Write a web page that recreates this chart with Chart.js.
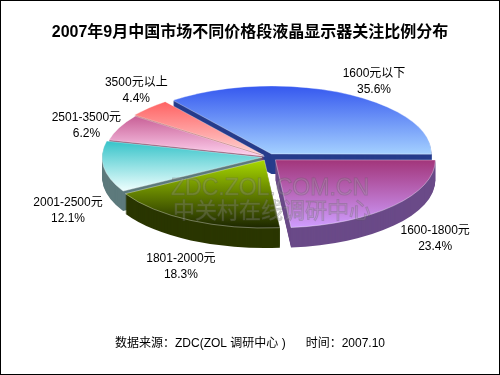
<!DOCTYPE html>
<html>
<head>
<meta charset="utf-8">
<script src="https://cdn.jsdelivr.net/npm/chart.js@4/dist/chart.umd.min.js"></script>
<style>
  html, body { margin: 0; padding: 0; background: #fff; }
  canvas { display: block; }
</style>
</head>
<body>
<canvas id="lcdShareChart" width="500" height="375"></canvas>
<script>
// Chart data
const priceBands = ["1600元以下", "1600-1800元", "1801-2000元", "2001-2500元", "2501-3500元", "3500元以上"];
const sharePercent = [35.6, 23.4, 18.3, 12.1, 6.2, 4.4];

const chartTitle = "2007年9月中国市场不同价格段液晶显示器关注比例分布";
const footerText = "数据来源：ZDC(ZOL 调研中心 )      时间：2007.10";

// Slice styles: gradient top -> bottom, side wall colour
const topColorA = ["#3558ef", "#a2357a", "#a8d800", "#36c3c9", "#c85f96", "#ff6262"];
const topColorB = ["#a4d0ff", "#cf9dff", "#1c2600", "#effffe", "#ffd2ef", "#ffd4d4"];
const sideColor = ["#263c8c", "#6a4a88", "#2a3600", "#5d7a7c", "#8c4a6c", "#b05a5a"];
const explode = [8, 10, 8, 6, 4, 6];

// 3D projection layout
const CX = 268, CY = 157, RX = 160, RY = 68, DEPTH = 20;
const TILT = RY / RX;
const FONT = "'Liberation Sans', 'Noto Sans CJK SC', sans-serif";

// label placement: ellipse round the block, plus small per-label nudges
const LABEL_CX = CX + 8, LABEL_CY = CY + DEPTH / 2;
const LABEL_RX = 207, LABEL_RY = 105;
const labelNudge = [[7, 9], [6, 1], [0, 6], [-3, 29], [-2, 3], [9, -3]];

/**
 * Build the path of one slice on the tilted ellipse
 * @param {CanvasRenderingContext2D} ctx
 * @param {Object} arc - Chart.js ArcElement
 * @param {number} dy - vertical shift (for the side wall)
 */
function slicePath(ctx, arc, dy) {
  const mid = (arc.startAngle + arc.endAngle) / 2;
  const off = arc.options.offset || 0;
  const ox = CX + Math.cos(mid) * off;
  const oy = CY + Math.sin(mid) * off * TILT + dy;
  ctx.beginPath();
  ctx.moveTo(ox, oy);
  ctx.ellipse(ox, oy, RX, RY, 0, arc.startAngle, arc.endAngle);
  ctx.closePath();
  return { ox, oy };
}

// vertical extent of a slice top, used for its gradient
function sliceYRange(arc, oy) {
  let minY = oy, maxY = oy;
  for (let a = arc.startAngle; a <= arc.endAngle; a += 0.02) {
    const y = oy + Math.sin(a) * RY;
    minY = Math.min(minY, y);
    maxY = Math.max(maxY, y);
  }
  const yEnd = oy + Math.sin(arc.endAngle) * RY;
  return [Math.min(minY, yEnd), Math.max(maxY, yEnd)];
}

const pie3dPlugin = {
  id: "pie3d",
  beforeDatasetsDraw(chart) {
    const ctx = chart.ctx;
    const arcs = chart.getDatasetMeta(0).data;
    const order = arcs
      .map((arc, i) => i)
      .sort((a, b) => {
        const ma = (arcs[a].startAngle + arcs[a].endAngle) / 2;
        const mb = (arcs[b].startAngle + arcs[b].endAngle) / 2;
        return Math.sin(ma) - Math.sin(mb);
      });

    ctx.save();
    // side walls first
    order.forEach((i) => {
      ctx.fillStyle = sideColor[i];
      for (let d = DEPTH; d > 0; d--) {
        slicePath(ctx, arcs[i], d);
        ctx.fill();
      }
    });
    // top faces
    order.forEach((i) => {
      const { oy } = slicePath(ctx, arcs[i], 0);
      const [y0, y1] = sliceYRange(arcs[i], oy);
      const grad = ctx.createLinearGradient(0, y0, 0, y1);
      grad.addColorStop(0, topColorA[i]);
      grad.addColorStop(1, topColorB[i]);
      ctx.fillStyle = grad;
      ctx.fill();
      ctx.strokeStyle = "rgba(255,255,255,0.35)";
      ctx.lineWidth = 1;
      ctx.stroke();
    });
    ctx.restore();
    return false; // skip the flat pie
  },
  afterDraw(chart) {
    const ctx = chart.ctx;
    const arcs = chart.getDatasetMeta(0).data;
    ctx.save();

    // watermark
    ctx.textAlign = "center";
    ctx.textBaseline = "middle";
    ctx.font = "23px " + FONT;
    ctx.fillStyle = "rgba(170,170,170,0.25)";
    ctx.strokeStyle = "rgba(90,90,90,0.28)";
    ctx.lineWidth = 1;
    ctx.fillText("ZDC.ZOL.COM.CN", 270, 189);
    ctx.strokeText("ZDC.ZOL.COM.CN", 270, 189);
    ctx.font = "22px 'Noto Sans CJK SC', sans-serif";
    ctx.fillText("中关村在线调研中心", 272, 210);
    ctx.strokeText("中关村在线调研中心", 272, 210);

    // slice labels
    ctx.font = "12px " + FONT;
    ctx.fillStyle = "#000";
    arcs.forEach((arc, i) => {
      const mid = (arc.startAngle + arc.endAngle) / 2;
      const lx = LABEL_CX + Math.cos(mid) * LABEL_RX + labelNudge[i][0];
      const ly = LABEL_CY + Math.sin(mid) * LABEL_RY + labelNudge[i][1];
      ctx.fillText(priceBands[i], lx, ly - 8);
      ctx.fillText(sharePercent[i].toFixed(1) + "%", lx, ly + 8);
    });

    // outer frame
    ctx.strokeStyle = "#000";
    ctx.lineWidth = 1;
    ctx.strokeRect(0.5, 0.5, chart.width - 1, chart.height - 1);
    ctx.restore();
  },
};

new Chart(document.getElementById("lcdShareChart"), {
  type: "pie",
  data: {
    labels: priceBands,
    datasets: [
      {
        data: sharePercent,
        backgroundColor: topColorA,
        offset: explode,
        borderWidth: 0,
      },
    ],
  },
  options: {
    responsive: false,
    animation: false,
    events: [],
    rotation: -38,
    plugins: {
      legend: { display: false },
      tooltip: { enabled: false },
      title: {
        display: true,
        text: chartTitle,
        color: "#000",
        font: { family: FONT, size: 16, weight: "bold" },
        padding: { top: 23, bottom: 10 },
      },
      subtitle: {
        display: true,
        position: "bottom",
        text: footerText,
        color: "#000",
        font: { family: FONT, size: 12, weight: "normal" },
        padding: { top: 10, bottom: 24 },
      },
    },
  },
  plugins: [pie3dPlugin],
});
</script>
</body>
</html>
